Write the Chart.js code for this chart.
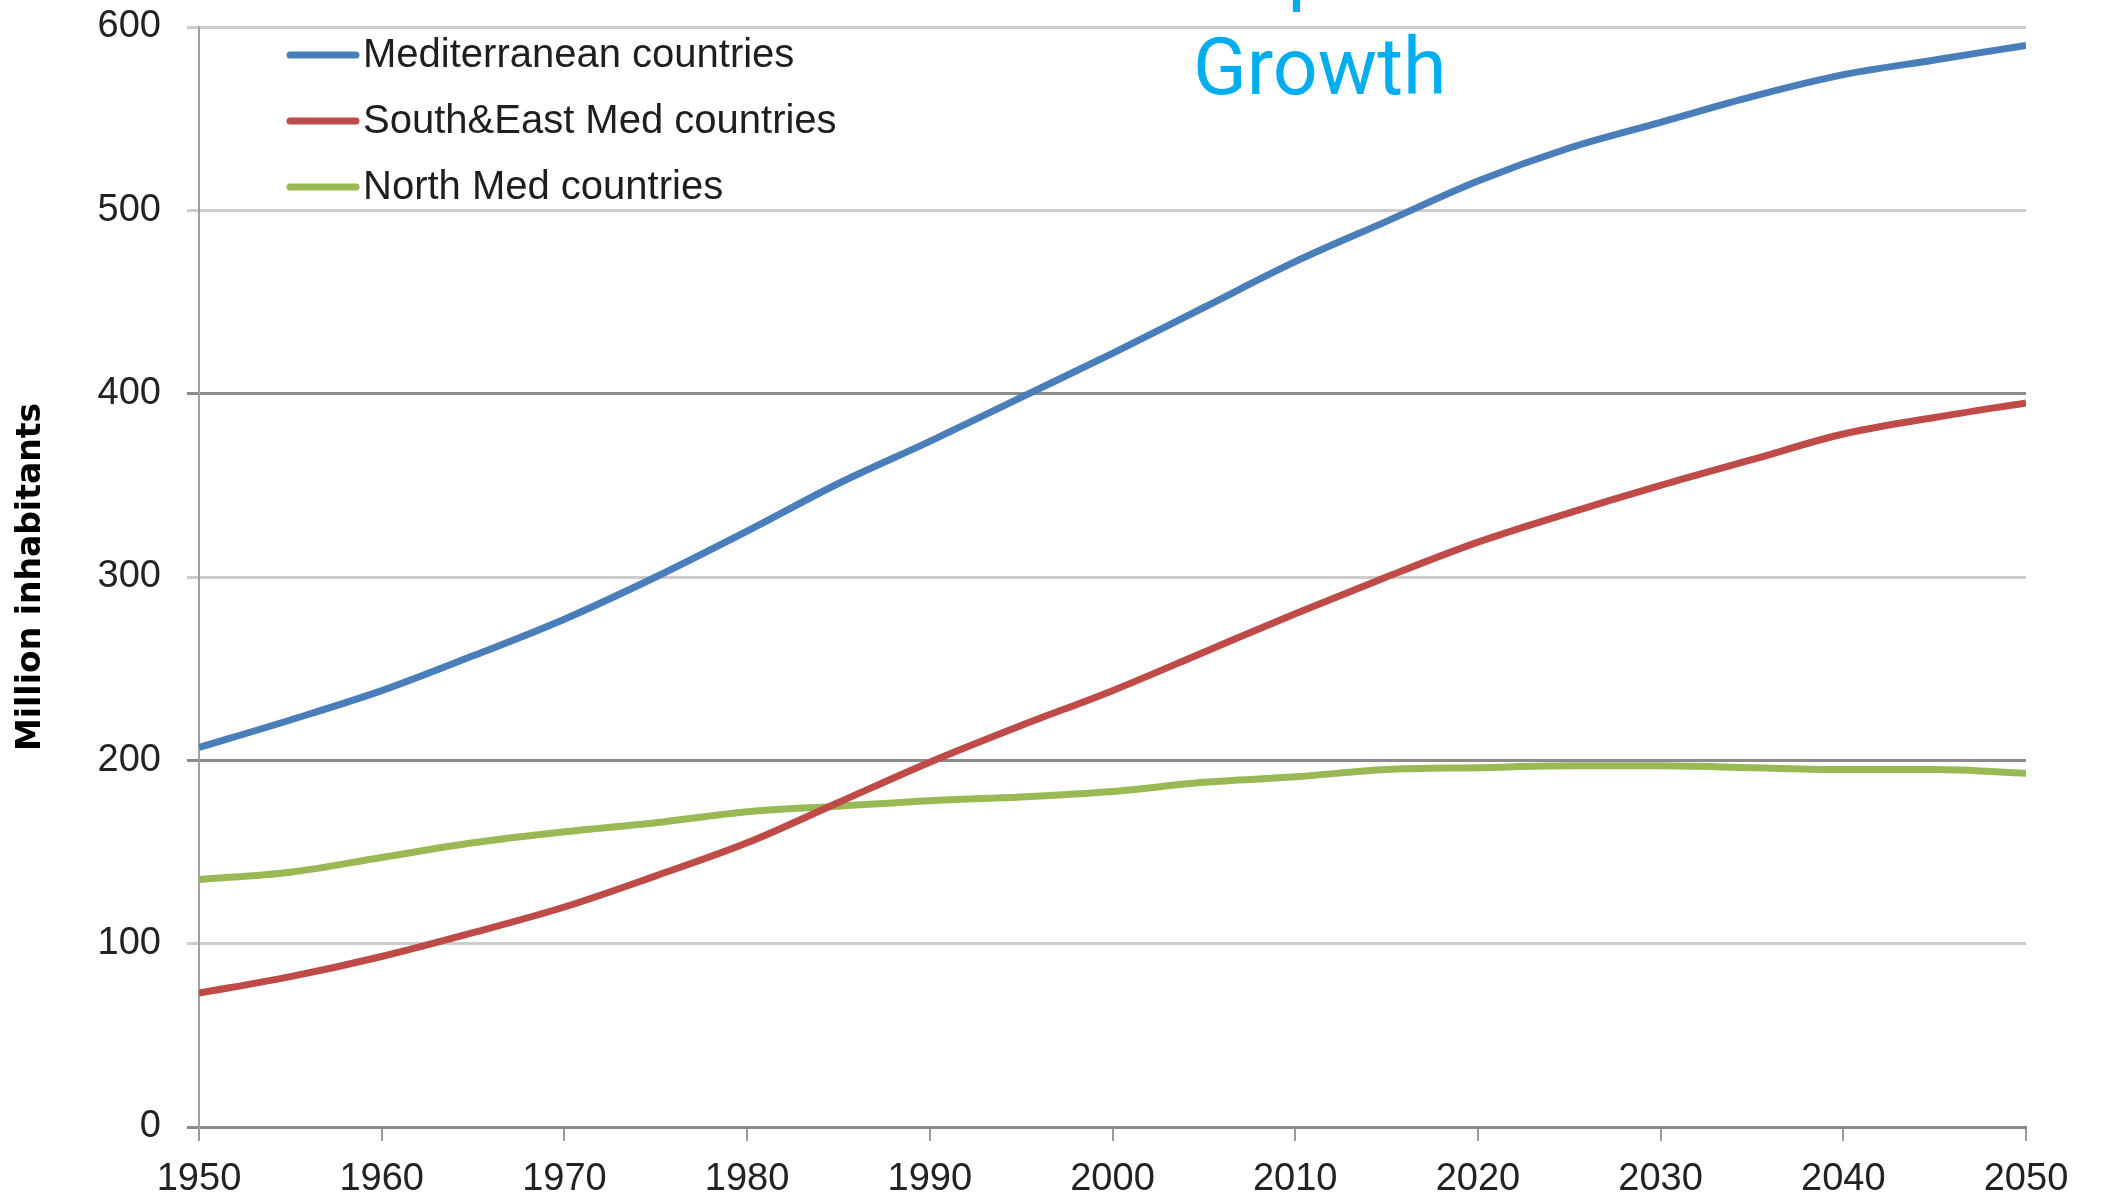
<!DOCTYPE html>
<html>
<head>
<meta charset="utf-8">
<script src="https://cdn.jsdelivr.net/npm/chart.js@4.4.1/dist/chart.umd.min.js"></script>
<style>
    html, body { margin: 0; padding: 0; background: #fff; overflow: hidden; }
    #wrap { position: relative; width: 2103px; height: 1199px; }
    #title {
        position: absolute;
        left: 1193px;
        top: -80px;
        font-family: Roboto, "Noto Sans", sans-serif;
        font-size: 79px;
        line-height: 98px;
        color: #00aeef;
        white-space: nowrap;
    }
</style>
</head>
<body>
<div id="wrap">
    <canvas id="pop-chart" width="2103" height="1199"></canvas>
    <div id="title">Population<br>Growth</div>
</div>
<script>
// Population of Mediterranean countries, million inhabitants, 1950-2050

const years = [1950, 1955, 1960, 1965, 1970, 1975, 1980, 1985, 1990, 1995, 2000,
               2005, 2010, 2015, 2020, 2025, 2030, 2035, 2040, 2045, 2050];

const mediterranean = [207, 222, 238, 257, 277, 300, 325, 351, 374, 398, 422,
                       447, 472, 494, 516, 534, 548, 562, 574, 582, 590];

const southEast = [73, 82, 93, 106, 120, 137, 155, 177, 199, 219, 238,
                   259, 280, 300, 319, 335, 350, 364, 378, 387, 395];

const north = [135, 139, 147, 155, 161, 166, 172, 175, 178, 180, 183,
               188, 191, 195, 196, 197, 197, 196, 195, 195, 193];

const seriesNames = ['Mediterranean countries', 'South&East Med countries', 'North Med countries'];
const seriesColors = ['#4a7ebb', '#be4b48', '#98b954'];

const yTicks = [0, 100, 200, 300, 400, 500, 600];

const FONT = '"Liberation Sans", Arial, sans-serif';

// legend drawn inside the plot, top-left
const innerLegend = {
    id: 'innerLegend',
    afterDraw(chart) {
        const ctx = chart.ctx;
        ctx.save();
        ctx.font = '40px ' + FONT;
        ctx.textBaseline = 'middle';
        chart.data.datasets.forEach((ds, i) => {
            const y = 55 + i * 66;
            ctx.strokeStyle = ds.borderColor;
            ctx.lineWidth = 7;
            ctx.lineCap = 'round';
            ctx.beginPath();
            ctx.moveTo(290, y);
            ctx.lineTo(356, y);
            ctx.stroke();
            ctx.fillStyle = '#1e1e1e';
            ctx.fillText(ds.label, 363, y + 1);
        });
        ctx.restore();
    }
};

const series = [mediterranean, southEast, north];

new Chart(document.getElementById('pop-chart'), {
    type: 'line',
    data: {
        datasets: series.map((values, i) => ({
            label: seriesNames[i],
            data: values.map((v, j) => ({ x: years[j], y: v })),
            borderColor: seriesColors[i],
            backgroundColor: seriesColors[i],
            borderWidth: 7,
            pointRadius: 0,
            cubicInterpolationMode: 'monotone',
            fill: false
        }))
    },
    options: {
        responsive: false,
        animation: false,
        devicePixelRatio: 1,
        layout: {
            padding: { left: 0, right: 77, top: 27, bottom: 0 }
        },
        plugins: {
            legend: { display: false },
            tooltip: { enabled: false }
        },
        scales: {
            x: {
                type: 'linear',
                min: 1950,
                max: 2050,
                afterFit(scale) {
                    scale.height = 72;
                    scale.paddingLeft = 0;
                    scale.paddingRight = 0;
                },
                ticks: {
                    stepSize: 10,
                    padding: 16,
                    color: '#222',
                    font: { family: FONT, size: 38 },
                    callback: (v) => String(v)
                },
                grid: {
                    drawOnChartArea: false,
                    drawTicks: true,
                    tickLength: 14,
                    color: '#9a9a9a',
                    lineWidth: 2
                },
                border: { color: '#8a8a8a', width: 3 }
            },
            y: {
                min: 0,
                max: 600,
                afterFit(scale) {
                    scale.width = 199;
                    scale.paddingTop = 0;
                    scale.paddingBottom = 0;
                },
                afterBuildTicks(scale) {
                    scale.ticks = yTicks.map(v => ({ value: v }));
                },
                ticks: {
                    padding: 26,
                    color: '#222',
                    font: { family: FONT, size: 38 }
                },
                grid: {
                    tickLength: 12,
                    lineWidth: 3,
                    color: (c) => {
                        const v = c.tick && c.tick.value;
                        if (v === 0) return '#8a8a8a';
                        if (v === 200 || v === 400) return '#8c8c8c';
                        return '#cccccc';
                    }
                },
                border: { color: '#a0a0a0', width: 2 },
                title: {
                    display: true,
                    text: 'Million inhabitants',
                    color: '#000',
                    font: { family: '"DejaVu Sans", sans-serif', size: 33, weight: 'bold' },
                    padding: { top: 12, bottom: 0 }
                }
            }
        }
    },
    plugins: [innerLegend]
});
</script>
</body>
</html>
